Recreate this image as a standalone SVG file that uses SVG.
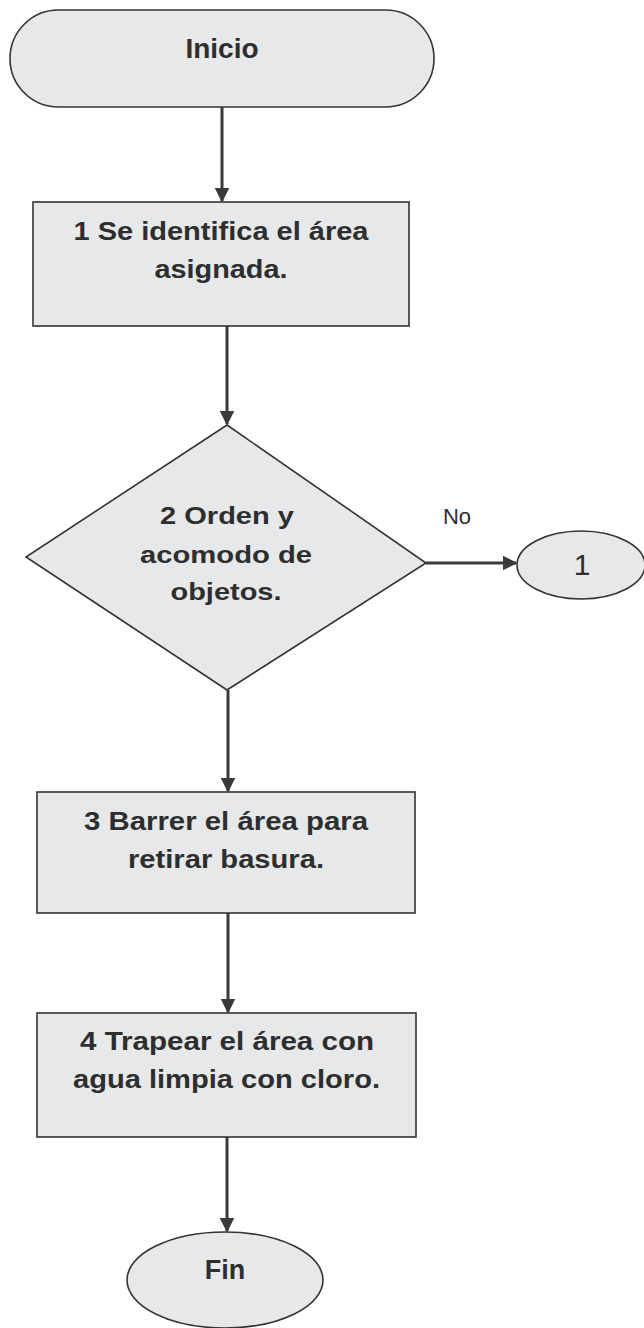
<svg xmlns="http://www.w3.org/2000/svg" width="644" height="1328" viewBox="0 0 644 1328">
<defs>
<style>
.shape{fill:#e6e8ea;stroke:#333;stroke-width:1.6}
.t{font-family:"Liberation Sans",Arial,sans-serif;fill:#2e2e2e;text-anchor:middle}
.b{font-weight:bold}
.edge{stroke:#3a3a3a;stroke-width:3;fill:none}
</style>
<marker id="arr" viewBox="0 0 10 10" refX="9" refY="5" markerWidth="5" markerHeight="5" orient="auto" markerUnits="strokeWidth">
<path d="M0,0 L10,5 L0,10 z" fill="#3a3a3a"/>
</marker>
</defs>
<rect width="644" height="1328" fill="#ffffff"/>
<g id="connectors">
<line class="edge" x1="222" y1="107" x2="222" y2="201" marker-end="url(#arr)"/>
<line class="edge" x1="227" y1="326" x2="227" y2="424" marker-end="url(#arr)"/>
<line class="edge" x1="426" y1="563" x2="516" y2="563" marker-end="url(#arr)"/>
<line class="edge" x1="228" y1="690" x2="228" y2="791" marker-end="url(#arr)"/>
<line class="edge" x1="228" y1="913" x2="228" y2="1012" marker-end="url(#arr)"/>
<line class="edge" x1="227" y1="1137" x2="227" y2="1231" marker-end="url(#arr)"/>
<text class="t" x="457" y="524" font-size="22">No</text>
</g>
<g id="inicio">
<rect class="shape" x="10" y="10" width="424" height="97" rx="48.5" ry="48.5"/>
<text class="t b" x="222" y="58" font-size="28">Inicio</text>
</g>
<g id="paso1">
<rect class="shape" x="33" y="202" width="376" height="124"/>
<text class="t b" x="221" y="240" font-size="25.5" textLength="295" lengthAdjust="spacingAndGlyphs">1 Se identifica el área</text>
<text class="t b" x="221" y="278" font-size="25.5" textLength="133" lengthAdjust="spacingAndGlyphs">asignada.</text>
</g>
<g id="decision2">
<polygon class="shape" points="227,425 426,563 227,690 26,557"/>
<text class="t b" x="227" y="524" font-size="24.5" textLength="134" lengthAdjust="spacingAndGlyphs">2 Orden y</text>
<text class="t b" x="226" y="563" font-size="24.5" textLength="172" lengthAdjust="spacingAndGlyphs">acomodo de</text>
<text class="t b" x="226" y="600" font-size="24.5" textLength="111" lengthAdjust="spacingAndGlyphs">objetos.</text>
</g>
<g id="conector1">
<ellipse class="shape" cx="581" cy="565" rx="64" ry="34"/>
<text class="t" x="582" y="575" font-size="30">1</text>
</g>
<g id="paso3">
<rect class="shape" x="37" y="792" width="378" height="121"/>
<text class="t b" x="226" y="830" font-size="25.5" textLength="284" lengthAdjust="spacingAndGlyphs">3 Barrer el área para</text>
<text class="t b" x="226" y="868" font-size="25.5" textLength="196" lengthAdjust="spacingAndGlyphs">retirar basura.</text>
</g>
<g id="paso4">
<rect class="shape" x="37" y="1013" width="379" height="124"/>
<text class="t b" x="227" y="1050" font-size="25.5" textLength="294" lengthAdjust="spacingAndGlyphs">4 Trapear el área con</text>
<text class="t b" x="226.5" y="1088" font-size="25.5" textLength="307" lengthAdjust="spacingAndGlyphs">agua limpia con cloro.</text>
</g>
<g id="fin">
<ellipse class="shape" cx="225" cy="1280" rx="98" ry="48"/>
<text class="t b" x="225" y="1279" font-size="27">Fin</text>
</g>
</svg>
